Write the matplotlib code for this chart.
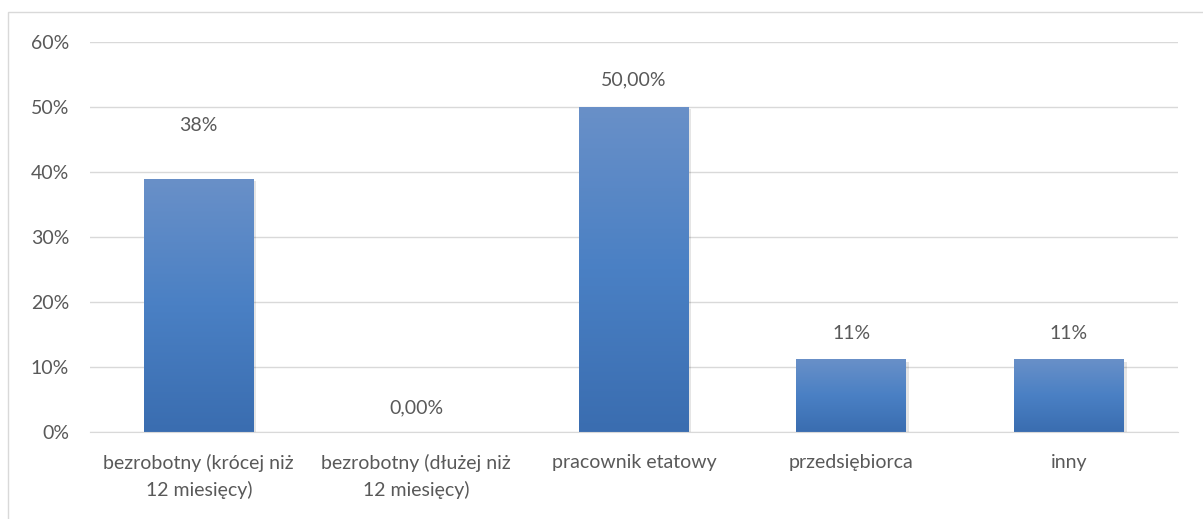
import matplotlib.pyplot as plt
import numpy as np
from matplotlib.colors import LinearSegmentedColormap
from matplotlib.patches import Rectangle

categories = ["bezrobotny (krócej niż\n12 miesięcy)", "bezrobotny (dłużej niż\n12 miesięcy)",
              "pracownik etatowy", "przedsiębiorca", "inny"]
values = [0.3889, 0.0, 0.50, 0.1111, 0.1111]
value_labels = ["38%", "0,00%", "50,00%", "11%", "11%"]
# Excel placed the first label higher than the rest
label_shift = [0.083, 0.037, 0.042, 0.041, 0.041]
yticks = [0, 0.1, 0.2, 0.3, 0.4, 0.5, 0.6]


def main():
    plt.rcParams['font.family'] = ['Lato', 'DejaVu Sans']
    txt = '#595959'
    fs = 14

    fig = plt.figure(figsize=(12.03, 5.19), dpi=100)
    ax = fig.add_axes([0.0748, 0.1676, 0.9042, 0.7514])

    # light frame around the chart area
    fig.patches.append(Rectangle((8 / 1203, -0.01), 1.0, 1 - 12 / 519 + 0.01,
                                 transform=fig.transFigure, fill=False,
                                 edgecolor='#d9d9d9', lw=1.0))

    cmap = LinearSegmentedColormap.from_list('bar', ['#3a6db0', '#4a80c4', '#6990c8'])
    grad = np.linspace(0, 1, 256).reshape(-1, 1)
    width = 0.505
    x = np.arange(len(categories))
    for i, v in enumerate(values):
        if v <= 0:
            continue
        # soft shadow
        ax.add_patch(Rectangle((x[i] - width / 2 + 0.012, -0.003), width, v,
                               facecolor='#000000', alpha=0.10, lw=0, zorder=2))
        ax.imshow(grad, cmap=cmap, origin='lower', aspect='auto',
                  extent=(x[i] - width / 2, x[i] + width / 2, 0, v), zorder=3)
    for i, v in enumerate(values):
        ax.text(x[i], v + label_shift[i], value_labels[i], ha='center', va='center',
                fontsize=fs, color=txt)

    ax.set_xlim(-0.5, len(categories) - 0.5)
    ax.set_ylim(0, 0.6)
    ax.set_yticks(yticks)
    ax.set_yticklabels([f"{int(round(t * 100))}%" for t in yticks], fontsize=fs, color=txt)
    ax.set_xticks(x)
    ax.set_xticklabels(categories, fontsize=fs, color=txt, linespacing=1.55)
    ax.tick_params(length=0)
    ax.tick_params(axis='y', pad=15)
    ax.tick_params(axis='x', pad=16)
    ax.grid(axis='y', color='#d9d9d9', lw=1.0, zorder=0)
    ax.set_axisbelow(True)
    for s in ['top', 'right', 'left']:
        ax.spines[s].set_visible(False)
    ax.spines['bottom'].set_color('#d9d9d9')
    ax.spines['bottom'].set_zorder(4)

    fig.savefig("out.png", dpi=100)


if __name__ == '__main__':
    main()
